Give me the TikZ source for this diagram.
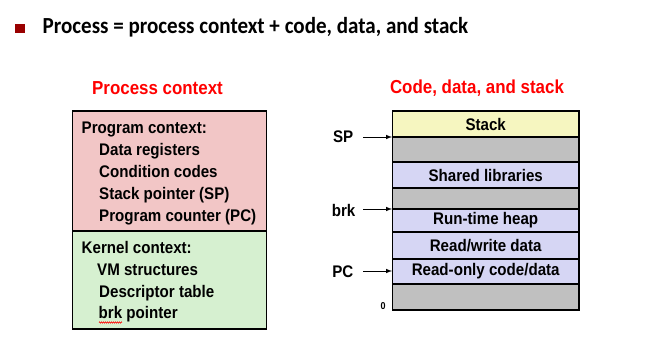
\documentclass[tikz,border=0pt]{standalone}
\usepackage{fontspec}
\setmainfont{Liberation Sans}[FakeStretch=0.9]
\newfontfamily\titlefont{Carlito}[FakeStretch=0.915]
\usetikzlibrary{decorations.pathmorphing}
\definecolor{bulletred}{HTML}{990000}
\definecolor{ctxpink}{HTML}{F2C6C6}
\definecolor{ctxgreen}{HTML}{D6F0D0}
\definecolor{stackyellow}{HTML}{F6F6C0}
\definecolor{gapgray}{HTML}{C0C0C0}
\definecolor{seglav}{HTML}{D6D6F4}
\begin{document}
\begin{tikzpicture}[x=1pt,y=-1pt,
  body/.style={font=\fontsize{16.8}{20}\selectfont\bfseries, inner sep=0pt, anchor=base west},
  heading/.style={font=\fontsize{18.8}{22}\selectfont\bfseries, text=red, inner sep=0pt},
  seg/.style={draw=black, line width=1.3pt},
  segtext/.style={font=\fontsize{16.8}{20}\selectfont\bfseries, inner sep=0pt},
  ptr/.style={font=\fontsize{16.8}{20}\selectfont\bfseries, inner sep=0pt, anchor=east},
  ptrarrow/.style={-latex, line width=1pt}]
\useasboundingbox (0,0) rectangle (662,361);
\fill[white] (0,0) rectangle (662,361);

% slide title
\fill[bulletred] (15,24) rectangle (25,33);
\node[font=\titlefont\fontsize{23}{27}\selectfont\bfseries, inner sep=0pt, anchor=base west] (title) at (42.5,33.3)
  {Process = process context + code, data, and stack};

% process context
\node[heading] (pch) at (157.5,88) {Process context};
\fill[ctxpink] (72.5,111) rectangle (266.5,231);
\fill[ctxgreen] (72.5,231) rectangle (266.5,329);
\draw[line width=1.5pt] (72.5,111) rectangle (266.5,329);
\draw[line width=1.5pt] (72.5,231) -- (266.5,231);

\node[body] (pc0) at (81.5,133) {Program context:};
\node[body] (pc1) at (99,155.5) {Data registers};
\node[body] (pc2) at (99,177.5) {Condition codes};
\node[body] (pc3) at (99,199.5) {Stack pointer (SP)};
\node[body] (pc4) at (99,221.5) {Program counter (PC)};

\node[body] (kc0) at (81.5,253.5) {Kernel context:};
\node[body] (kc1) at (97,275) {VM structures};
\node[body] (kc2) at (99,297) {Descriptor table};
\node[body] (kc3) at (98.5,318.5) {\vphantom{b}brk pointer};
\draw[red, line width=0.5pt, decorate, decoration={zigzag, segment length=2pt, amplitude=0.7pt}]
  (99,322.5) -- (122,322.5);

% code, data, and stack
\node[heading] (cdh) at (477,88) {Code, data, and stack};
\fill[stackyellow] (392.5,111) rectangle (579,137);
\fill[gapgray] (392.5,137) rectangle (579,162);
\fill[seglav] (392.5,162) rectangle (579,188);
\fill[gapgray] (392.5,188) rectangle (579,209);
\fill[seglav] (392.5,209) rectangle (579,284);
\fill[gapgray] (392.5,284) rectangle (579,310);
\draw[seg] (392.5,111) rectangle (579,310);
\foreach \yy in {137,162,188,209,232,259,284}
  \draw[seg] (392.5,\yy) -- (579,\yy);

\node[segtext] (stk) at (485.7,124) {Stack};
\node[segtext] (shl) at (485.7,175) {Shared libraries};
\node[segtext] (hp) at (485.7,220.5) {Run-time heap};
\node[segtext] (rw) at (485.7,245.5) {Read/write data};
\node[segtext] (ro) at (485.7,271.5) {Read-only code/data};

\coordinate (spT) at (392,137);
\coordinate (brkT) at (392,209);
\coordinate (pcT) at (392,271);
\node[ptr] (sp) at (353.5,137) {SP};
\node[ptr] (brk) at (355.5,210) {brk};
\node[ptr] (pcl) at (353.5,271.5) {PC};
\draw[ptrarrow] (363,137) -- (spT);
\draw[ptrarrow] (363,209) -- (brkT);
\draw[ptrarrow] (363,271) -- (pcT);
\node[font=\fontsize{10}{11}\selectfont\bfseries, inner sep=0pt] (zero) at (383,306.5) {0};
\end{tikzpicture}
\end{document}
